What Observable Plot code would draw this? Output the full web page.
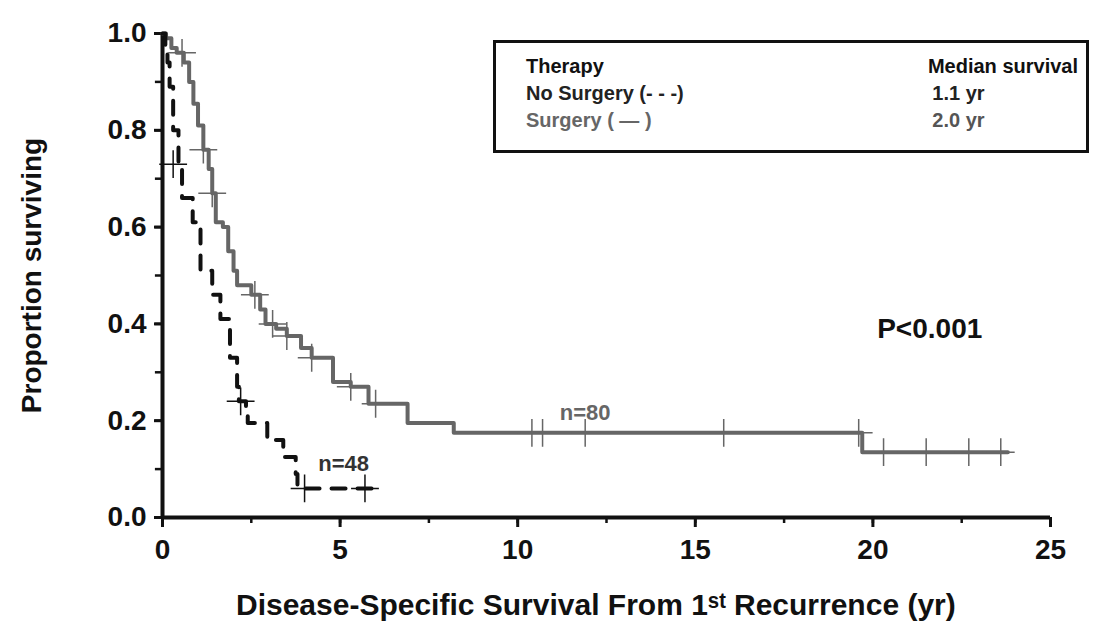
<!DOCTYPE html>
<html>
<head>
<meta charset="utf-8">
<script src="https://cdn.jsdelivr.net/npm/d3@7"></script>
<script src="https://cdn.jsdelivr.net/npm/@observablehq/plot@0.6"></script>
<style>
  body { margin: 0; background: #fff; font-family: Arial, "Liberation Sans", sans-serif; }
  #wrap { position: relative; width: 1106px; height: 636px; }
  #legend { position: absolute; left: 493px; top: 40px; width: 596px; height: 113px;
    border: 3px solid #111; box-sizing: border-box; font-size: 20px; font-weight: bold; background: #fff; }
  #legend table { border-collapse: collapse; margin: 10px 0 0 30px; width: 552px; font-weight: bold; }
  #legend td { padding: 0; line-height: 27px; }
  #legend td.r { text-align: center; padding-left: 30px; }
</style>
</head>
<body>
<div id="wrap">
  <div id="chart"></div>
  <div id="legend"><table>
    <tr><td style="color:#111">Therapy</td><td style="text-align:right;color:#111">Median survival</td></tr>
    <tr><td style="color:#222">No Surgery (- - -)</td><td class="r" style="color:#222">1.1 yr</td></tr>
    <tr><td style="color:#666">Surgery ( — )</td><td class="r" style="color:#555">2.0 yr</td></tr>
  </table></div>
</div>
<script>
// Surgery (solid gray) step curve
const surgT = [0, 0.1, 0.25, 0.4, 0.6, 0.75, 0.87, 1.0, 1.15, 1.3, 1.4, 1.5, 1.7, 1.85, 2.0, 2.1, 2.5, 2.75, 2.9, 3.2, 3.5, 3.9, 4.2, 4.8, 5.3, 5.8, 6.9, 8.2, 19.7, 23.8];
const surgS = [1.0, 0.99, 0.97, 0.96, 0.94, 0.9, 0.855, 0.81, 0.76, 0.72, 0.67, 0.61, 0.6, 0.55, 0.51, 0.48, 0.46, 0.43, 0.40, 0.39, 0.375, 0.35, 0.33, 0.28, 0.27, 0.235, 0.195, 0.175, 0.135, 0.135];
const surgCensT = [0.55, 1.15, 1.4, 2.6, 3.1, 3.5, 4.2, 5.3, 6.0, 10.4, 10.7, 11.9, 15.8, 19.6, 20.3, 21.5, 22.7, 23.6];
// No surgery (dashed black) step curve
const noT = [0, 0.08, 0.14, 0.2, 0.3, 0.45, 0.55, 0.85, 1.07, 1.4, 1.63, 1.9, 2.1, 2.15, 2.35, 2.4, 2.95, 3.4, 3.75, 3.8, 6.0];
const noS = [1.0, 0.97, 0.94, 0.89, 0.80, 0.73, 0.66, 0.61, 0.51, 0.46, 0.41, 0.33, 0.27, 0.24, 0.23, 0.195, 0.16, 0.125, 0.09, 0.06, 0.06];
const noCensT = [0.3, 2.2, 4.0, 5.7];
const noCensS = [0.73, 0.24, 0.06, 0.06];
const xTicks = [0, 5, 10, 15, 20, 25];
const yTicks = [0, 0.2, 0.4, 0.6, 0.8, 1.0];

const surg = surgT.map((t, i) => ({t, s: surgS[i]}));
const noSurg = noT.map((t, i) => ({t, s: noS[i]}));
const stepAt = (arr, t) => { let s = arr[0].s; for (const d of arr) if (d.t <= t) s = d.s; return s; };
const surgCens = surgCensT.map(t => ({t, s: stepAt(surg, t)}));
const noCens = noCensT.map((t, i) => ({t, s: noCensS[i]}));

const chart = Plot.plot({
  width: 1106, height: 636,
  marginLeft: 162, marginRight: 56, marginTop: 33, marginBottom: 119,
  style: {fontFamily: "Arial, 'Liberation Sans', sans-serif", fontSize: "28px", fontWeight: "bold", color: "#111"},
  x: {domain: [0, 25], label: null},
  y: {domain: [0, 1], label: null},
  marks: [
    Plot.axisX({ticks: xTicks, tickSize: 10, tickPadding: 12, strokeWidth: 3}),
    Plot.axisY({ticks: yTicks, tickFormat: d3.format(".1f"), tickSize: 8, tickPadding: 8, strokeWidth: 3}),
    Plot.axisX({ticks: d3.range(0, 25.1, 2.5), tickSize: 6, strokeWidth: 2.5, tickFormat: () => ""}),
    Plot.ruleY(d3.range(1, 10, 1).map(i => i / 10), {y: d => d, x1: 0, x2: -0.2, stroke: "#111", strokeWidth: 2.5}),
    Plot.ruleX([0], {stroke: "#111", strokeWidth: 4}),
    Plot.ruleY([0], {stroke: "#111", strokeWidth: 4}),
    Plot.line(surg, {x: "t", y: "s", curve: "step-after", stroke: "#666", strokeWidth: 4}),
    Plot.line(noSurg, {x: "t", y: "s", curve: "step-after", stroke: "#111", strokeWidth: 4, strokeDasharray: "14,12"}),
    Plot.dot(surgCens, {x: "t", y: "s", symbol: "plus", r: 9, stroke: "#666", strokeWidth: 1.5}),
    Plot.dot(noCens, {x: "t", y: "s", symbol: "plus", r: 9, stroke: "#111", strokeWidth: 1.5}),
    Plot.text(["P<0.001"], {x: 21.6, y: 0.39, fontSize: 28, fill: "#111"}),
    Plot.text(["n=80"], {x: 11.9, y: 0.215, fontSize: 22, fill: "#666"}),
    Plot.text(["n=48"], {x: 5.1, y: 0.11, fontSize: 22, fill: "#333"}),
    Plot.text(["Disease-Specific Survival From 1ˢᵗ Recurrence (yr)"], {x: 12.2, y: 0, dy: 88, fontSize: 30, fill: "#111"}),
    Plot.text(["Proportion surviving"], {x: 0, y: 0.5, dx: -130, rotate: -90, fontSize: 28, fill: "#111"})
  ]
});
document.getElementById("chart").appendChild(chart);
</script>
</body>
</html>
